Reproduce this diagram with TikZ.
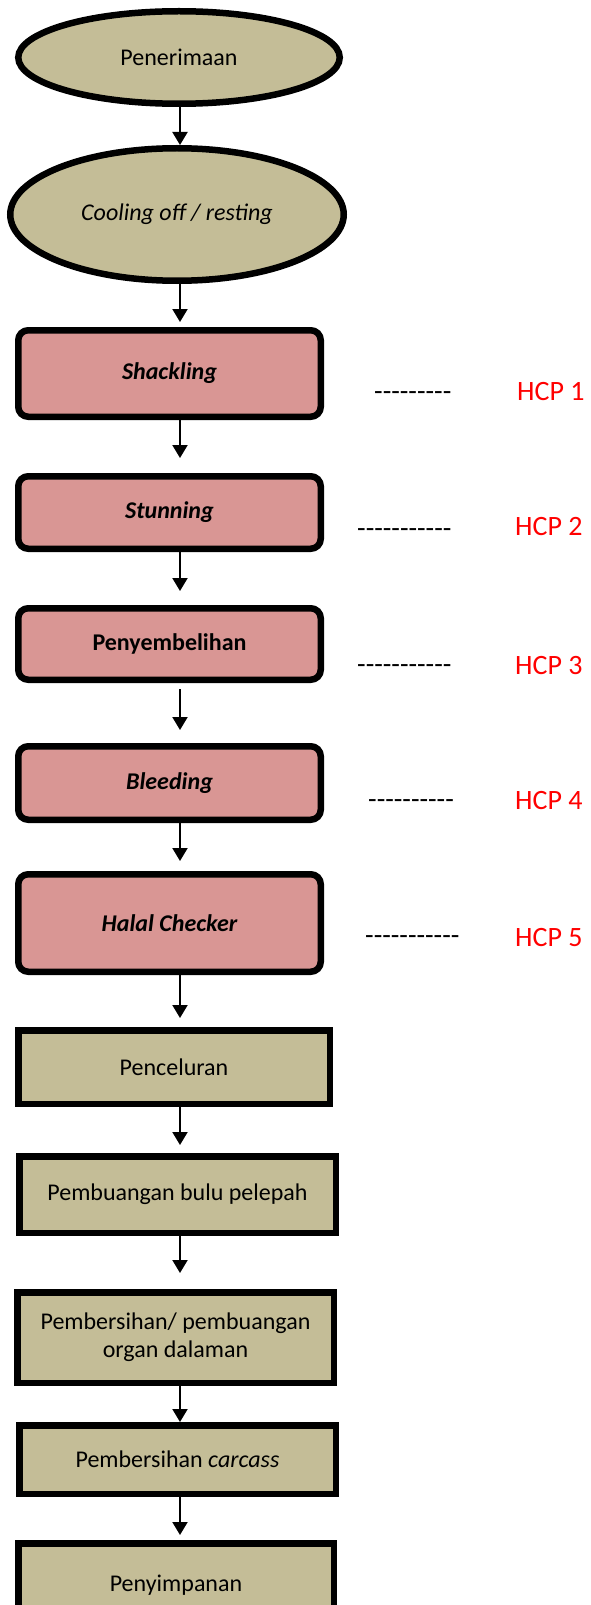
\documentclass[tikz,border=0pt]{standalone}
\usepackage{fontspec}
\setmainfont{Carlito}
\usetikzlibrary{shapes.geometric,arrows.meta}
\definecolor{tanfill}{HTML}{C4BD97}
\definecolor{pinkfill}{HTML}{D99694}
\newcommand{\dashrow}[1]{\foreach \k in {1,...,#1}{-\kern0pt}}

\begin{document}
\begin{tikzpicture}[x=1pt, y=-1pt,
  every node/.style={inner sep=0pt},
  oval/.style={ellipse, draw, line width=6.5pt, fill=tanfill, font=\fontsize{24}{28}\selectfont},
  hcpbox/.style={rectangle, rounded corners=10pt, draw, line width=6.5pt, fill=pinkfill, minimum width=302.5pt, font=\fontsize{24}{28}\selectfont\bfseries},
  stepbox/.style={rectangle, draw, line width=6.5pt, fill=tanfill, align=center, font=\fontsize{24}{28}\selectfont},
  flow/.style={-{Triangle[width=15pt,length=13pt]}, line width=2pt},
  hcpdash/.style={anchor=base west, font=\fontsize{28}{34}\selectfont},
  hcp/.style={anchor=base west, text=red, font=\fontsize{28}{34}\selectfont}]
\useasboundingbox (0,0) rectangle (590,1605);
\clip (0,0) rectangle (590,1605);

\node[oval, minimum width=321.5pt, minimum height=92.5pt] (pener) at (179,57.5) {Penerimaan};
\node[oval, minimum width=333.5pt, minimum height=132.5pt] (cool) at (177,214.5) {\itshape Cooling off / resting};

\node[hcpbox, minimum height=86.5pt] (shack) at (169.5,373.5) {\itshape Shackling};
\node[hcpbox, minimum height=72.5pt] (stun) at (169.5,512.5) {\itshape Stunning};
\node[hcpbox, minimum height=71.5pt] (peny) at (169.5,644) {Penyembelihan};
\node[hcpbox, minimum height=73.5pt] (bleed) at (169.5,783) {\itshape Bleeding};
\node[hcpbox, minimum height=97.5pt] (halal) at (169.5,923) {\itshape Halal Checker};

\node[stepbox, minimum width=311.5pt, minimum height=73.5pt] (pencel) at (174,1067) {Penceluran};
\node[stepbox, minimum width=316.5pt, minimum height=76.5pt] (bulu) at (177.5,1194.5) {Pembuangan bulu pelepah};
\node[stepbox, minimum width=316.5pt, minimum height=90.5pt] (organ) at (175.5,1337.5) {Pembersihan/ pembuangan\\organ dalaman};
\node[stepbox, minimum width=316.5pt, minimum height=68.5pt] (carcass) at (177.5,1459.5) {Pembersihan \textit{carcass}};
\node[stepbox, minimum width=315.5pt, minimum height=83.5pt] (simpan) at (176,1585) {Penyimpanan};

\node[hcpdash] (dash1) at (374,400.5) {\dashrow{9}};
\node[hcpdash] (dash2) at (357,537.5) {\dashrow{11}};
\node[hcpdash] (dash3) at (357,673.5) {\dashrow{11}};
\node[hcpdash] (dash4) at (368,808.5) {\dashrow{10}};
\node[hcpdash] (dash5) at (365,944.5) {\dashrow{11}};
\node[hcp] (hcp1) at (517,400) {HCP 1};
\node[hcp] (hcp2) at (515,535) {HCP 2};
\node[hcp] (hcp3) at (515,674) {HCP 3};
\node[hcp] (hcp4) at (515,809) {HCP 4};
\node[hcp] (hcp5) at (515,946) {HCP 5};

\coordinate (spine) at (180,0);
\draw[flow] (pener.south -| spine) -- (cool.north -| spine);
\draw[flow, shorten >=5pt] (cool.south -| spine) -- (shack.north -| spine);
\draw[flow, shorten >=15pt] (shack.south -| spine) -- (stun.north -| spine);
\draw[flow, shorten >=14pt] (stun.south -| spine) -- (peny.north -| spine);
\draw[flow, shorten <=6pt, shorten >=13pt] (peny.south -| spine) -- (bleed.north -| spine);
\draw[flow, shorten >=10pt] (bleed.south -| spine) -- (halal.north -| spine);
\draw[flow, shorten >=9pt] (halal.south -| spine) -- (pencel.north -| spine);
\draw[flow, shorten >=8pt] (pencel.south -| spine) -- (bulu.north -| spine);
\draw[flow, shorten >=16pt] (bulu.south -| spine) -- (organ.north -| spine);
\draw[flow] (organ.south -| spine) -- (carcass.north -| spine);
\draw[flow, shorten >=5pt] (carcass.south -| spine) -- (simpan.north -| spine);
\end{tikzpicture}
\end{document}
